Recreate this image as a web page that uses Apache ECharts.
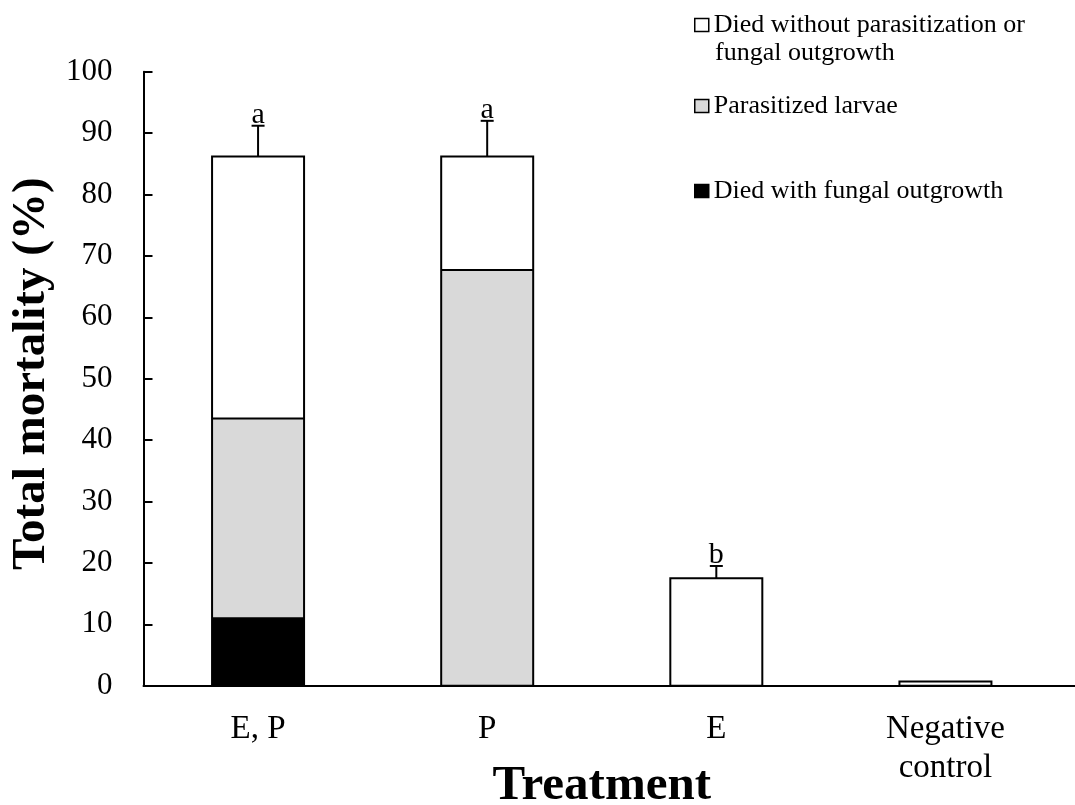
<!DOCTYPE html>
<html>
<head>
<meta charset="utf-8">
<script src="https://cdn.jsdelivr.net/npm/echarts@6/dist/echarts.min.js"></script>
<style>
html,body{margin:0;padding:0;background:#fff;}
#chart{width:1075px;height:805px;}
</style>
</head>
<body>
<div id="chart"></div>
<script>
// ---- data ----
var categories = ['E, P', 'P', 'E', 'Negative\ncontrol'];
var fungal      = [11.0, null, null, null];   // Died with fungal outgrowth
var parasitized = [32.5, 67.7, null, null];   // Parasitized larvae
var withoutPF   = [42.7, 18.5, 17.5, 0.7];    // Died without parasitization or fungal outgrowth
var errorUp     = [5.0, 5.8, 2.0, null];      // upper error (SE)
var letters     = ['a', 'a', 'b', ''];
var yTicks      = { min: 0, max: 100, interval: 10 };
var seriesNames = ['Died with fungal outgrowth', 'Parasitized larvae', 'Died without parasitization or'];
var legendLine2 = 'fungal outgrowth';

var FONT = '"Liberation Serif", "Times New Roman", serif';

var outlineData = categories.map(function (c, i) {
  var a = fungal[i] || 0, b = parasitized[i] || 0, w = withoutPF[i] || 0;
  return [i, a, a + b, a + b + w];
});
var errData = [];
categories.forEach(function (c, i) {
  if (errorUp[i] != null) errData.push([i, outlineData[i][3], errorUp[i], i]);
});

var chart = echarts.init(document.getElementById('chart'), null, { renderer: 'canvas' });

var legendCommon = {
  orient: 'vertical',
  left: 694,
  padding: 0,
  icon: 'rect',
  itemWidth: 14,
  itemHeight: 13,
  itemGap: 0,
  selectedMode: false,
  textStyle: { fontFamily: FONT, fontSize: 26, color: '#000', lineHeight: 30 },
  itemStyle: { borderWidth: 1.5, borderColor: '#000' }
};

var BAR_W = 92;

var option = {
  backgroundColor: '#fff',
  animation: false,
  legend: [
    Object.assign({}, legendCommon, { top: 10, data: [seriesNames[2]] }),
    Object.assign({}, legendCommon, { top: 91, data: [seriesNames[1]] }),
    Object.assign({}, legendCommon, { top: 176, data: [seriesNames[0]] })
  ],
  grid: { left: 143.5, right: 15, top: 71.7, bottom: 119.3, containLabel: false, outerBoundsMode: 'none' },
  xAxis: {
    type: 'category',
    data: categories,
    axisTick: { show: false },
    axisLine: { lineStyle: { color: '#000', width: 2 } },
    axisLabel: { color: '#000', fontFamily: FONT, fontSize: 33, lineHeight: 39, margin: 24, interval: 0, verticalAlign: 'top' },
    name: 'Treatment',
    nameLocation: 'middle',
    nameGap: 76,
    nameMoveOverlap: false,
    nameTextStyle: { color: '#000', fontFamily: FONT, fontSize: 49, fontWeight: 'bold' }
  },
  yAxis: {
    type: 'value',
    min: yTicks.min, max: yTicks.max, interval: yTicks.interval,
    splitLine: { show: false },
    axisLine: { show: true, lineStyle: { color: '#000', width: 2 } },
    axisTick: { show: true, inside: true, length: 9, lineStyle: { color: '#000', width: 2 } },
    axisLabel: { color: '#000', fontFamily: FONT, fontSize: 31, margin: 31 },
    name: 'Total mortality (%)',
    nameLocation: 'middle',
    nameRotate: 90,
    nameGap: 88,
    nameMoveOverlap: false,
    nameTextStyle: { color: '#000', fontFamily: FONT, fontSize: 47, fontWeight: 'bold', padding: [0, 0, 0, 10] }
  },
  series: [
    { name: seriesNames[0], type: 'bar', stack: 'total', barWidth: BAR_W, data: fungal, itemStyle: { color: '#000000', borderWidth: 0 } },
    { name: seriesNames[1], type: 'bar', stack: 'total', barWidth: BAR_W, data: parasitized, itemStyle: { color: '#d9d9d9', borderWidth: 0 } },
    { name: seriesNames[2], type: 'bar', stack: 'total', barWidth: BAR_W, data: withoutPF, itemStyle: { color: '#ffffff', borderWidth: 0 } },
    {
      // outlines of each stacked column and the boundaries between segments
      type: 'custom',
      name: 'outline',
      data: outlineData,
      encode: { x: 0, y: 3 },
      z: 5,
      renderItem: function (params, api) {
        var ci = api.value(0);
        var p0 = api.coord([ci, 0]);
        var pA = api.coord([ci, api.value(1)]);
        var pB = api.coord([ci, api.value(2)]);
        var pT = api.coord([ci, api.value(3)]);
        var hw = BAR_W / 2;
        var ch = [{
          type: 'rect',
          shape: { x: p0[0] - hw, y: pT[1], width: BAR_W, height: p0[1] - pT[1] },
          style: { fill: null, stroke: '#000', lineWidth: 2 }
        }];
        if (api.value(1) > 0 && api.value(1) < api.value(3)) {
          ch.push({ type: 'line', shape: { x1: p0[0] - hw, y1: pA[1], x2: p0[0] + hw, y2: pA[1] }, style: { stroke: '#000', lineWidth: 2 } });
        }
        if (api.value(2) > api.value(1) && api.value(2) < api.value(3)) {
          ch.push({ type: 'line', shape: { x1: p0[0] - hw, y1: pB[1], x2: p0[0] + hw, y2: pB[1] }, style: { stroke: '#000', lineWidth: 2 } });
        }
        return { type: 'group', children: ch };
      }
    },
    {
      type: 'custom',
      name: 'err',
      data: errData,
      encode: { x: 0, y: 1 },
      z: 10,
      renderItem: function (params, api) {
        var ci = api.value(0);
        var base = api.coord([ci, api.value(1)]);
        var top = api.coord([ci, api.value(1) + api.value(2)]);
        var hw = 6.5;
        return {
          type: 'group',
          children: [
            { type: 'line', shape: { x1: base[0], y1: base[1], x2: top[0], y2: top[1] }, style: { stroke: '#000', lineWidth: 2 } },
            { type: 'line', shape: { x1: top[0] - hw, y1: top[1], x2: top[0] + hw, y2: top[1] }, style: { stroke: '#000', lineWidth: 2 } },
            { type: 'text', x: top[0], y: top[1] + 4, style: { text: letters[api.value(3)], font: '30px ' + FONT, fill: '#000', align: 'center', verticalAlign: 'bottom' } }
          ]
        };
      }
    }
  ]
};
chart.setOption(option);

// second legend line, and x axis line extended to the right edge as in the reference
var p0 = chart.convertToPixel({ xAxisIndex: 0, yAxisIndex: 0 }, [categories.length - 1, 0]);
var axisY = Math.round(p0[1]);
var gridRight = chart.getWidth() - 15;
chart.setOption({
  graphic: [{
    type: 'text', left: 715, top: 40,
    style: { text: legendLine2, font: '26px ' + FONT, fill: '#000' }
  }, {
    type: 'line',
    shape: { x1: gridRight - 1, y1: axisY, x2: chart.getWidth(), y2: axisY },
    style: { stroke: '#000', lineWidth: 2 }
  }]
});
</script>
</body>
</html>
